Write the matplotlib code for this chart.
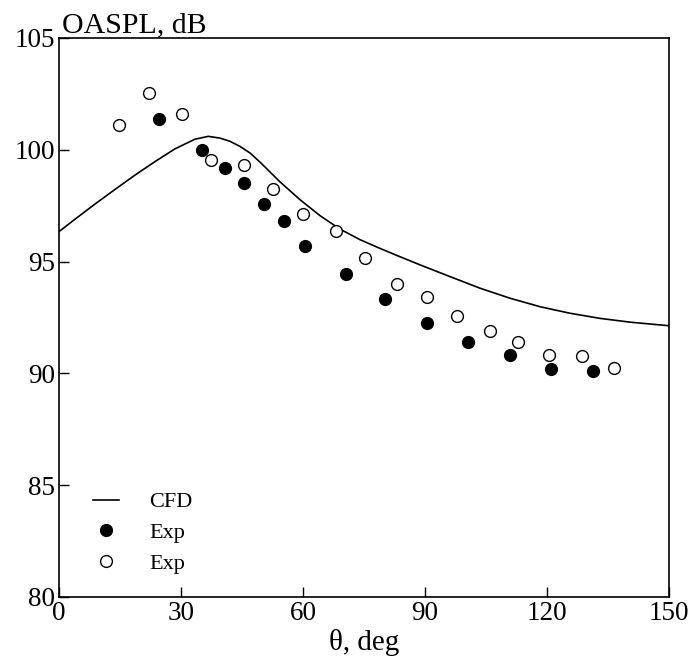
import numpy as np
import matplotlib.pyplot as plt

plt.rcParams['font.family'] = ['Liberation Serif', 'DejaVu Serif']

# CFD curve
cfd_theta = [0, 3.9, 8.9, 13.8, 18.7, 23.6, 28.5, 33.4, 36.7, 39.6, 42.0,
             44.5, 47.0, 49.4, 54.3, 59.3, 64.2, 69.1, 74.0, 78.9, 83.8,
             88.8, 96.1, 103.5, 110.9, 118.3, 125.6, 133.0, 140.4, 150]
cfd_oaspl = [96.34, 96.89, 97.58, 98.23, 98.87, 99.47, 100.04, 100.47, 100.6,
             100.52, 100.38, 100.15, 99.85, 99.45, 98.57, 97.76, 97.05, 96.45,
             95.98, 95.59, 95.22, 94.85, 94.33, 93.81, 93.36, 92.98, 92.69,
             92.46, 92.29, 92.13]

# filled circles
exp1_theta = [24.5, 35.1, 40.7, 45.6, 50.3, 55.3, 60.5, 70.5, 80.1, 90.4,
              100.6, 110.9, 120.9, 131.4]
exp1_oaspl = [101.37, 100.0, 99.2, 98.5, 97.58, 96.8, 95.71, 94.43, 93.34,
              92.25, 91.4, 90.81, 90.21, 90.09]

# open circles
exp2_theta = [14.8, 22.2, 30.3, 37.4, 45.5, 52.6, 60.0, 68.0, 75.3, 83.0,
              90.4, 97.9, 106.1, 112.9, 120.6, 128.5, 136.4]
exp2_oaspl = [101.1, 102.56, 101.6, 99.56, 99.3, 98.25, 97.14, 96.37, 95.16,
              94.0, 93.43, 92.58, 91.91, 91.4, 90.84, 90.78, 90.23]

fig = plt.figure(figsize=(6.92, 6.60), dpi=100)
ax = fig.add_axes([0.0853, 0.0955, 0.8815, 0.847])

ax.plot(cfd_theta, cfd_oaspl, color='black', lw=1.2, label='CFD')
ax.plot(exp1_theta, exp1_oaspl, 'o', color='black', ms=8.5, mec='black',
        label='Exp')
ax.plot(exp2_theta, exp2_oaspl, 'o', mfc='white', mec='black', mew=1.0,
        ms=8.5, label='Exp')

ax.set_xlim(0, 150)
ax.set_ylim(80, 105)
ax.set_xticks([0, 30, 60, 90, 120, 150])
ax.set_yticks([80, 85, 90, 95, 100, 105])
ax.tick_params(direction='in', length=7, width=1, labelsize=19.5,
               top=False, right=False, pad=3)
for s in ax.spines.values():
    s.set_linewidth(1.2)

ax.set_xlabel('θ, deg', fontsize=21, labelpad=2)
ax.text(0.005, 1.0, 'OASPL, dB', transform=ax.transAxes, fontsize=21.5,
        va='bottom', ha='left')

ax.legend(loc='lower left', bbox_to_anchor=(0.037, 0.022), frameon=False,
          fontsize=16, handlelength=1.2, handletextpad=1.35, labelspacing=0.45,
          borderpad=0)

fig.savefig('out.png', dpi=100)
